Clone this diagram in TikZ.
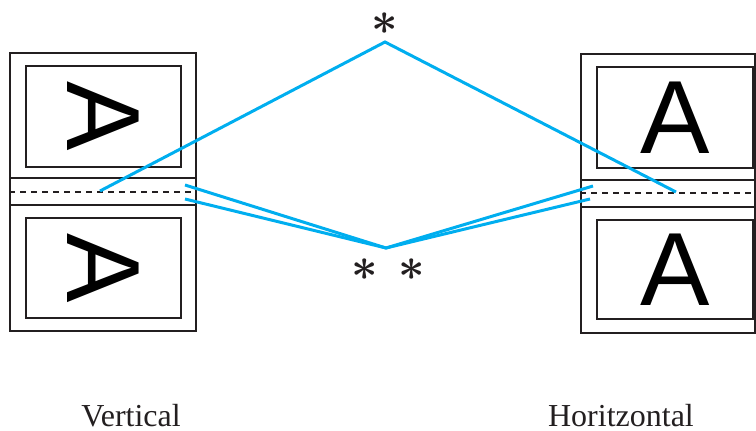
\documentclass[tikz,border=0pt]{standalone}
\usepackage{fontspec}
\usepackage{graphicx}
\setmainfont{Liberation Serif}
\newfontfamily\letterfont{Liberation Sans}
\usetikzlibrary{calc}
\definecolor{foldblue}{HTML}{00AEEF}
\definecolor{inkgray}{HTML}{231F20}
\newcommand{\markstar}{\scalebox{4.6}{\boldmath$\ast$}}
\tikzset{
  sheet/.style={
    draw=inkgray,
    line width=1.6pt,
    inner sep=0pt
  },
  panel/.style={
    draw=inkgray,
    line width=1.6pt,
    inner sep=0pt,
    minimum width=155pt,
    minimum height=101pt,
    font=\fontsize{104}{104}\letterfont
  },
  foldline/.style={draw=inkgray, line width=1.4pt, dash pattern=on 6pt off 5pt},
  marginline/.style={draw=foldblue, line width=3pt},
  starmark/.style={inner sep=0pt, text=inkgray},
  caption/.style={anchor=base, inner sep=0pt, text=inkgray, font=\fontsize{32}{32}\selectfont}
}

\begin{document}
\begin{tikzpicture}[x=1pt,y=-1pt]
\useasboundingbox (0,0) rectangle (756,431);

% vertical layout
\node[sheet, minimum width=186pt, minimum height=278pt] (vsheet) at (103,192) {};
\node[panel] (vtop) at (103.5,116.5) {\rotatebox{-90}{A}};
\node[panel, minimum height=100pt] (vbot) at (103.5,268) {\rotatebox{-90}{A}};
\draw[sheet] (vsheet.west |- 0,178) -- (vsheet.east |- 0,178);
\draw[sheet] (vsheet.west |- 0,205) -- (vsheet.east |- 0,205);
\draw[foldline] (vsheet.west |- 0,192) -- (vsheet.east |- 0,192);

% horizontal layout
\node[sheet, minimum width=174pt, minimum height=279pt] (hsheet) at (668,193.5) {};
\node[panel, minimum width=156pt] (htop) at (675,117.5) {A};
\node[panel, minimum width=156pt, minimum height=99pt] (hbot) at (675,269.5) {A};
\draw[sheet] (hsheet.west |- 0,180) -- (hsheet.east |- 0,180);
\draw[sheet] (hsheet.west |- 0,207) -- (hsheet.east |- 0,207);
\draw[foldline] (hsheet.west |- 0,193) -- (hsheet.east |- 0,193);

% margin marks
\coordinate (topapex) at (385,42);
\coordinate (botapex) at (386,248);
\coordinate (vfold) at (100,191);
\coordinate (hfold) at (676,192);
\coordinate (vedgeup) at (185,185);
\coordinate (vedgedown) at (185,199);
\coordinate (hedgeup) at (593,186);
\coordinate (hedgedown) at (590,199);
\node[starmark] (topstar) at (385,24) {\markstar};
\node[starmark] (leftstar) at (365,270) {\markstar};
\node[starmark] (rightstar) at (412,270) {\markstar};

\draw[marginline] (vfold) -- (topapex) -- (hfold);
\draw[marginline] (vedgeup) -- (botapex) -- (hedgeup);
\draw[marginline] (vedgedown) -- (botapex) -- (hedgedown);

\node[caption] (vcap) at (131,426) {Vertical};
\node[caption] (hcap) at (621,426) {Horitzontal};
\end{tikzpicture}
\end{document}
